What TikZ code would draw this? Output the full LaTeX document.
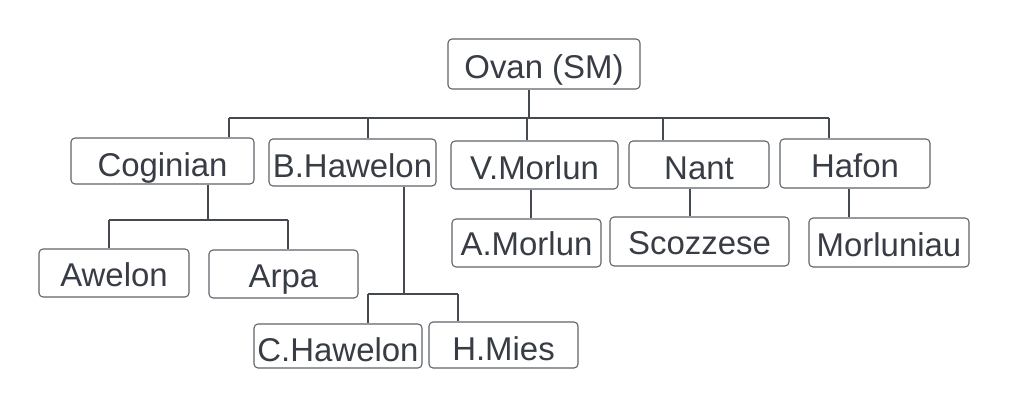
\documentclass[tikz,border=0pt]{standalone}
\usepackage{fontspec}
\setmainfont{Liberation Sans}
\definecolor{txt}{HTML}{383D45}
\definecolor{bord}{HTML}{5F636A}
\definecolor{conn}{HTML}{454950}
\begin{document}
\begin{tikzpicture}[x=0.75pt,y=-0.75pt,
  bx/.style n args={3}{draw=bord, line width=0.8pt, rounded corners=3pt,
    inner sep=0pt, text depth=0pt, text=txt,
    font=\fontsize{24.7pt}{28pt}\selectfont,
    minimum width=#1*0.75pt, minimum height=#2*0.75pt, text height=#3*1.5pt},
  ln/.style={draw=conn, line width=1pt}]
\fill[white] (0,0) rectangle (1010,409);
\useasboundingbox (0,0) rectangle (1010,409);
% boxes
\node[bx={192}{50}{15}] (ovan) at (544,64) {Ovan (SM)};
\node[bx={183}{46}{16}] (cog) at (162.5,161) {Coginian};
\node[bx={167}{47}{15.5}] (bhaw) at (352.5,162.5) {B.Hawelon};
\node[bx={167}{48}{15}] (vmor) at (534.5,165) {V.Morlun};
\node[bx={140}{47}{15.5}] (nant) at (699,164.5) {Nant};
\node[bx={150}{49}{14.5}] (hafon) at (855,163.5) {Hafon};
\node[bx={150}{48}{14}] (awel) at (114,273) {Awelon};
\node[bx={149}{48}{14}] (arpa) at (283.5,274) {Arpa};
\node[bx={149}{48}{13}] (amor) at (526.5,243) {A.Morlun};
\node[bx={179}{49}{13.5}] (scoz) at (699.5,241.5) {Scozzese};
\node[bx={160}{49}{14.5}] (morl) at (889,242.5) {Morluniau};
\node[bx={168}{44}{16}] (chaw) at (338,346) {C.Hawelon};
\node[bx={149}{46}{16}] (hmies) at (503.5,345) {H.Mies};
% junction coordinates
\coordinate (j0) at (529,118);
\coordinate (d1) at (229,118);
\coordinate (d2) at (368,118);
\coordinate (d3) at (527,118);
\coordinate (d4) at (663,118);
\coordinate (d5) at (829,118);
\coordinate (cj) at (208,220);
\coordinate (c1) at (109,220);
\coordinate (c2) at (288,220);
\coordinate (bj) at (404,294);
\coordinate (b1) at (368,294);
\coordinate (b2) at (458,294);
% top level
\draw[ln] (ovan.south -| j0) -- (j0);
\draw[ln] (d1) -- (d5);
\draw[ln] (d1) -- (d1 |- cog.north);
\draw[ln] (d2) -- (d2 |- bhaw.north);
\draw[ln] (d3) -- (d3 |- vmor.north);
\draw[ln] (d4) -- (d4 |- nant.north);
\draw[ln] (d5) -- (d5 |- hafon.north);
% Coginian
\draw[ln] (cog.south -| cj) -- (cj);
\draw[ln] (c1) -- (c2);
\draw[ln] (c1) -- (c1 |- awel.north);
\draw[ln] (c2) -- (c2 |- arpa.north);
% B.Hawelon
\draw[ln] (bhaw.south -| bj) -- (bj);
\draw[ln] (b1) -- (b2);
\draw[ln] (b1) -- (b1 |- chaw.north);
\draw[ln] (b2) -- (b2 |- hmies.north);
% single children
\draw[ln] (vmor.south -| 531,0) -- (amor.north -| 531,0);
\draw[ln] (nant.south -| 690,0) -- (scoz.north -| 690,0);
\draw[ln] (hafon.south -| 849,0) -- (morl.north -| 849,0);
\end{tikzpicture}
\end{document}
